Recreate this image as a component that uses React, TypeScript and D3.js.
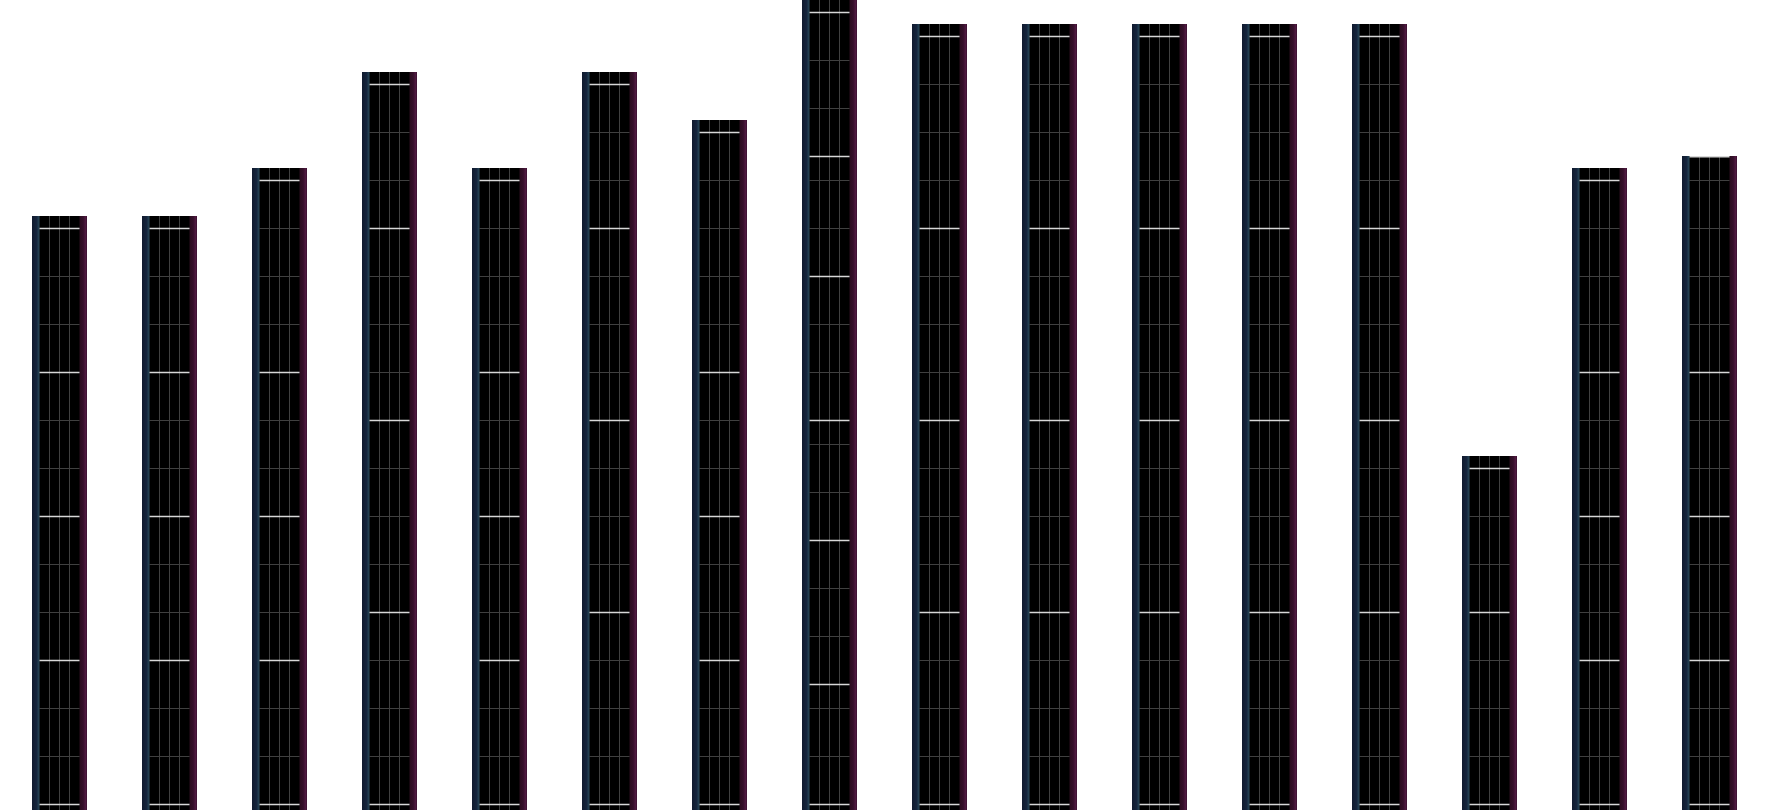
import React from "react";
import * as d3 from "d3";

// Bars (left to right); each bar is a stack of segments, listed bottom to top (in units).
const categories = [
  "B01", "B02", "B03", "B04", "B05", "B06", "B07", "B08",
  "B09", "B10", "B11", "B12", "B13", "B14", "B15", "B16",
];
const segments: number[][] = [
  [3, 3, 3, 3],
  [3, 3, 3, 3],
  [3, 3, 3, 4],
  [4, 4, 4, 3],
  [3, 3, 3, 4],
  [4, 4, 4, 3],
  [3, 3, 3, 5],
  [2.5, 3, 2.5, 3, 2.5, 3],
  [4, 4, 4, 4],
  [4, 4, 4, 4],
  [4, 4, 4, 4],
  [4, 4, 4, 4],
  [4, 4, 4, 4],
  [4, 3],
  [3, 3, 3, 4],
  [3, 3, 3, 4.5],
];
// Headroom above the top segment (units)
const caps = [0.25, 0.25, 0.25, 0.25, 0.25, 0.25, 0.25, 0.25, 0.25, 0.25, 0.25, 0.25, 0.25, 0.25, 0.25, 0];
const yDomainMax = 16.75;

const W = 1770;
const H = 810;

export default function App() {
  const x = d3
    .scaleBand<string>()
    .domain(categories)
    .range([4.5, 1764.5])
    .paddingInner(0.5)
    .paddingOuter(0.25);
  const y = d3.scaleLinear().domain([0, yDomainMax]).range([804, 0]);
  const bw = x.bandwidth();
  const stripe = 7.5;
  const cols = 4;

  return (
    <svg
      width={W}
      height={H}
      style={{ position: "absolute", left: 0, top: 0, background: "#ffffff" }}
    >
      <defs>
        <linearGradient id="leftStripe" x1="0" x2="1" y1="0" y2="0">
          <stop offset="0%" stopColor="#101a2e" />
          <stop offset="60%" stopColor="#15243c" />
          <stop offset="78%" stopColor="#1c3549" />
          <stop offset="100%" stopColor="#2c4c5e" />
        </linearGradient>
        <linearGradient id="rightStripe" x1="0" x2="1" y1="0" y2="0">
          <stop offset="0%" stopColor="#2a0d1e" />
          <stop offset="50%" stopColor="#36102b" />
          <stop offset="80%" stopColor="#4f1a40" />
          <stop offset="100%" stopColor="#3a1030" />
        </linearGradient>
      </defs>
      {categories.map((c, i) => {
        const segs = segments[i];
        const total = d3.sum(segs);
        const x0 = x(c) as number;
        const top = y(total + caps[i]);
        const innerL = x0 + stripe;
        const innerR = x0 + bw - stripe;
        const innerW = innerR - innerL;
        const bounds = [0, ...d3.cumsum(segs)];
        const grayYs: number[] = [];
        segs.forEach((s, k) => {
          for (let u = 1; u < s; u++) grayYs.push(bounds[k] + u);
        });
        return (
          <g key={c}>
            <rect x={x0} y={top} width={bw} height={H - top} fill="#000000" />
            <rect x={x0} y={top} width={stripe} height={H - top} fill="url(#leftStripe)" />
            <rect x={innerR} y={top} width={stripe} height={H - top} fill="url(#rightStripe)" />
            {d3.range(1, cols).map((j) => (
              <line
                key={"v" + j}
                x1={innerL + (innerW * j) / cols}
                x2={innerL + (innerW * j) / cols}
                y1={top}
                y2={H}
                stroke="#404040"
                strokeWidth={1}
              />
            ))}
            {grayYs.map((v) => (
              <line
                key={"g" + v}
                x1={innerL}
                x2={innerR}
                y1={y(v) + 0.5}
                y2={y(v) + 0.5}
                stroke="#404040"
                strokeWidth={1}
              />
            ))}
            {bounds.map((v) => (
              <line
                key={"w" + v}
                x1={innerL}
                x2={innerR}
                y1={Math.max(y(v) + 0.5, top + 0.75)}
                y2={Math.max(y(v) + 0.5, top + 0.75)}
                stroke="#d8d8d8"
                strokeWidth={1.3}
              />
            ))}
          </g>
        );
      })}
    </svg>
  );
}
